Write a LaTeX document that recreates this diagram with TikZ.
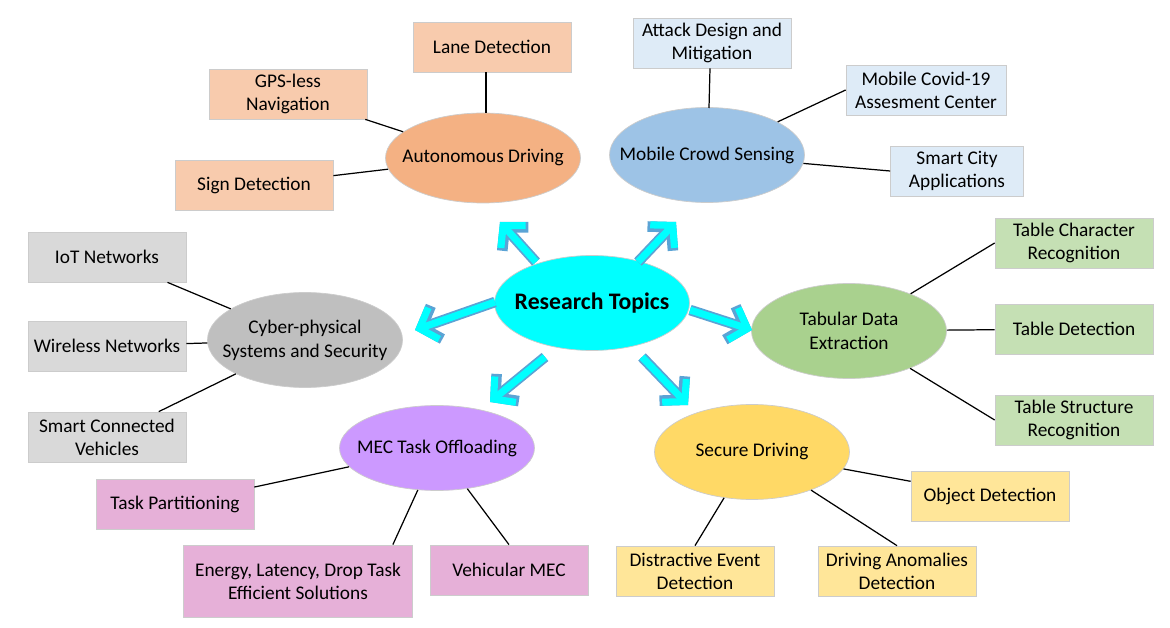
\documentclass[tikz,border=0pt]{standalone}
\usepackage{fontspec}
\setmainfont{Carlito}
\usetikzlibrary{arrows.meta,shapes}
\definecolor{cOr}{HTML}{F4B183}\definecolor{bOr}{HTML}{F8CBAD}
\definecolor{cBl}{HTML}{9DC3E6}\definecolor{bBl}{HTML}{DEEBF7}
\definecolor{cGr}{HTML}{BFBFBF}\definecolor{bGr}{HTML}{D9D9D9}
\definecolor{cGn}{HTML}{A9D18E}\definecolor{bGn}{HTML}{C5E0B4}
\definecolor{cPu}{HTML}{CC99FF}\definecolor{bPu}{HTML}{E6B0D8}
\definecolor{cYe}{HTML}{FFD966}\definecolor{bYe}{HTML}{FFE699}
\definecolor{cCy}{HTML}{00FFFF}
\definecolor{arrB}{HTML}{5BA3D5}
\tikzset{
  topic/.style={ellipse,fill=#1,draw=white!80!black,inner xsep=-14pt,inner ysep=0pt,minimum width=195*0.02cm,minimum height=90*0.02cm,align=center,font=\fontsize{11}{13.5}\selectfont},
  leaf/.style={rectangle,fill=#1,draw=white!80!black,minimum width=158*0.02cm,minimum height=50*0.02cm,align=center,font=\fontsize{11}{13}\selectfont},
  link/.style={draw=black,line width=0.7pt},
}
\begin{document}
\begin{tikzpicture}[x=0.02cm,y=-0.02cm,inner sep=1pt]
\useasboundingbox (0,0) rectangle (1170,628);
\node[topic=cCy,minimum height=95*0.02cm,font=\fontsize{13.5}{15}\selectfont\bfseries] (rt) at (592,303) {Research Topics};
\node[topic=cOr] (ad) at (483,158) {Autonomous Driving};
\node[topic=cBl,minimum height=95*0.02cm] (mcs) at (707,155) {Mobile Crowd Sensing};
\node[topic=cGr,minimum height=95*0.02cm] (cps) at (305,340) {Cyber-physical\\Systems and Security};
\node[topic=cGn,minimum height=95*0.02cm] (tde) at (849,331) {Tabular Data\\Extraction};
\node[topic=cPu,minimum height=85*0.02cm] (mec) at (437,448) {MEC Task Offloading};
\node[topic=cYe,minimum height=95*0.02cm] (sd) at (752,452) {Secure Driving};
% leaves
\node[leaf=bOr] (ad1) at (492,47) {Lane Detection};
\node[leaf=bOr] (ad2) at (288,94) {GPS-less\\Navigation};
\node[leaf=bOr] (ad3) at (254,185) {Sign Detection};
\node[leaf=bBl] (mcs1) at (712,43) {Attack Design and\\Mitigation};
\node[leaf=bBl,minimum width=160*0.02cm] (mcs2) at (926,90) {Mobile Covid-19\\Assesment Center};
\node[leaf=bBl,minimum width=133*0.02cm] (mcs3) at (957,171) {Smart City\\Applications};
\node[leaf=bGr] (cps1) at (107,257) {IoT Networks};
\node[leaf=bGr] (cps2) at (107,346) {Wireless Networks};
\node[leaf=bGr] (cps3) at (107,437) {Smart Connected\\Vehicles};
\node[leaf=bGn] (tde1) at (1074,243) {Table Character\\Recognition};
\node[leaf=bGn] (tde2) at (1074,329) {Table Detection};
\node[leaf=bGn] (tde3) at (1074,420) {Table Structure\\Recognition};
\node[leaf=bPu] (mec1) at (175,504) {Task Partitioning};
\node[leaf=bPu,minimum width=229*0.02cm,minimum height=72*0.02cm] (mec2) at (298,581) {Energy, Latency, Drop Task\\Efficient Solutions};
\node[leaf=bPu] (mec3) at (509,570) {Vehicular MEC};
\node[leaf=bYe] (sd1) at (990,496) {Object Detection};
\node[leaf=bYe] (sd2) at (695,571) {Distractive Event\\Detection};
\node[leaf=bYe] (sd3) at (897,571) {Driving Anomalies\\Detection};
% links
\draw[link] (ad1.south -| 486,0) -- (486,113);
\draw[link] (ad2) -- (ad); \draw[link] (ad3) -- (ad);
\draw[link] (mcs1.south -| 710,0) -- (709,108);
\draw[link] (mcs2.west) -- (mcs); \draw[link] (mcs3.west) -- (mcs);
\draw[link] (cps1) -- (cps); \draw[link] (cps2) -- (cps); \draw[link] (cps3) -- (cps);
\draw[link] (tde1.west) -- (tde); \draw[link] (tde2) -- (tde); \draw[link] (tde3.west) -- (tde);
\draw[link] (mec1) -- (mec); \draw[link] (mec2.north east) ++(-20,0) -- (mec);
\draw[link] (mec3.north) -- (mec);
\draw[link] (sd1) -- (sd); \draw[link] (sd2.north) -- (sd); \draw[link] (sd3.north) -- (sd);
% arrows
\foreach \sx/\sy/\ex/\ey in {536/262/500/222, 638/262/676/222, 495/302/415/330, 690/310/752/330, 545/357/490/402, 642/357/688/405}{
  \draw[arrB,line width=6pt,-{Straight Barb[length=9pt,width=20pt,line width=6pt]}] (\sx,\sy) -- (\ex,\ey);
  \draw[cCy,line width=4pt,-{Straight Barb[length=8.6pt,width=19pt,line width=4pt]}] (\sx,\sy) -- (\ex,\ey);
}
\end{tikzpicture}
\end{document}
